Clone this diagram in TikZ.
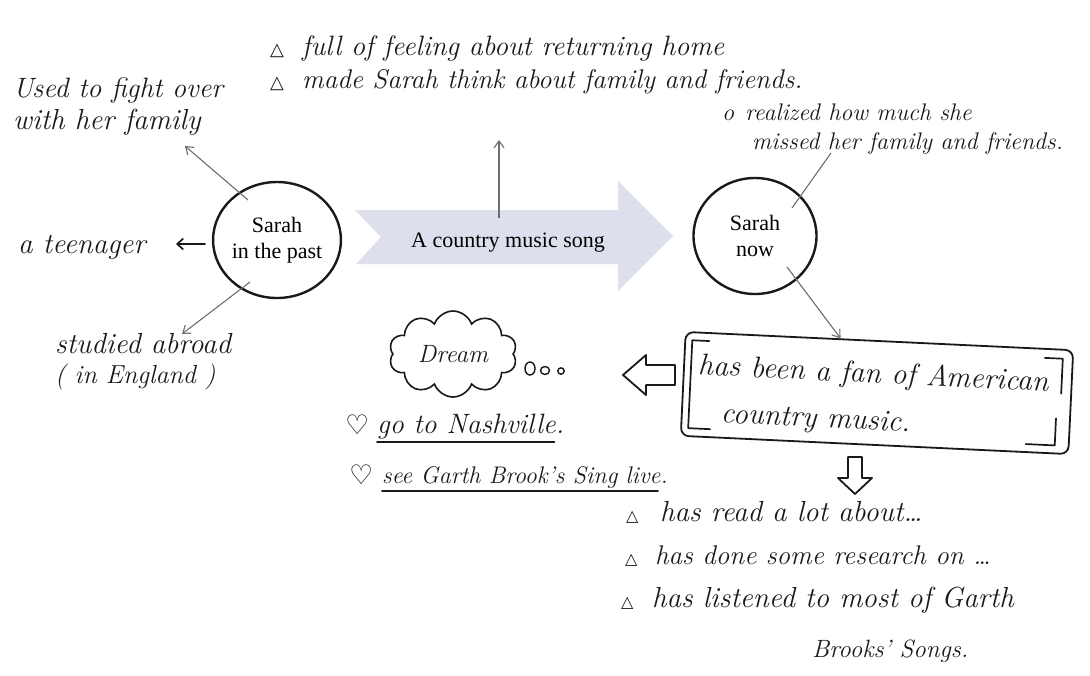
\documentclass[tikz,border=0pt]{standalone}
\usepackage{fontspec}
\newfontfamily\printfont{Liberation Serif}
\newfontfamily\symfont{DejaVu Sans}
\usetikzlibrary{arrows.meta,shapes.geometric,shapes.symbols,calc}
\definecolor{arrowfill}{RGB}{222,223,237}
\definecolor{ink}{RGB}{25,25,25}
\definecolor{conngray}{RGB}{110,110,110}
\begin{document}
\begin{tikzpicture}[x=1pt,y=-1pt,
  hand/.style={font=\fontsize{#1}{#1}\selectfont\itshape, text=ink, inner sep=0pt, anchor=base west},
  hand/.default=28,
  sym/.style={font=\fontsize{#1}{#1}\selectfont\symfont, text=ink, inner sep=0pt, anchor=base west},
  person/.style={ellipse, draw=ink, line width=2.4pt, minimum width=123pt, minimum height=116pt, align=center, font=\fontsize{22}{26}\selectfont\printfont, inner sep=0pt},
  conn/.style={draw=conngray, line width=1.1pt},
  tip/.style={-{Straight Barb[length=7pt,width=10pt,line width=1.1pt]}},
  stroke/.style={draw=ink, line width=1.7pt, line cap=round, line join=round},
]
\fill[white] (0,0) rectangle (1090,675);
\path[use as bounding box] (0,0) rectangle (1090,675);

% big arrow with its label
\fill[arrowfill] (355,210) -- (618,210) -- (618,181) -- (673,236) -- (618,291) -- (618,264) -- (356,264) -- (381,237) -- cycle;
\node[font=\fontsize{22}{26}\selectfont\printfont, inner sep=0pt, anchor=base] (song) at (508,247) {A country music song};

% persons
\node[person] (past) at (277,240) {Sarah\\in the past};
\node[person] (now) at (755,236) {Sarah\\now};

% top texts
\node[sym=18] (tb1) at (270,55) {△};
\node[hand=28] (top1) at (302,55) {full of feeling about returning home};
\node[sym=18] (tb2) at (270,88) {△};
\node[hand=27] (top2) at (302,88) {made Sarah think about family and friends.};

\node[hand=24] (ob) at (722,120) {o};
\node[hand=24] (real1) at (745,120) {realized how much she};
\node[hand=24] (real2) at (752,149) {missed her family and friends.};

% left texts
\node[hand=28] (fight1) at (13,97) {Used to fight over};
\node[hand=29] (fight2) at (13,129) {with her family};
\node[hand=29] (teen) at (18,253) {a teenager};
\node[hand=29] (abroad) at (55,353) {studied abroad};
\node[hand=26] (england) at (55,383) {( in England )};

% dream cloud
\node[cloud, cloud puffs=10, cloud puff arc=140, aspect=1.6, draw=ink, line width=1.6pt, minimum width=128pt, minimum height=86pt, inner sep=0pt, font=\fontsize{25}{25}\selectfont\itshape, text=ink] (dream) at (453,354) {Dream};
\draw[stroke, line width=1.4pt] (530,368.5) ellipse [x radius=5, y radius=6.5];
\draw[stroke, line width=1.4pt] (545,370.5) ellipse [x radius=4.5, y radius=4];
\draw[stroke, line width=1.4pt] (561,371) circle [radius=3.2];

\node[sym=27] (h1) at (345,434) {♡};
\node[hand=28] (nash) at (377,433) {go to Nashville.};
\draw[stroke] ([yshift=-9pt]nash.base west) -- ([yshift=-9pt,xshift=-10pt]nash.base east);
\node[sym=27] (h2) at (349,484) {♡};
\node[hand=24] (garth) at (382,483) {see Garth Brook's Sing live.};
\draw[stroke] ([yshift=-8pt]garth.base west) -- ([yshift=-8pt,xshift=-10pt]garth.base east);

% box
\begin{scope}[shift={(877,393)}, rotate=-2.7]
\node[draw=ink, line width=1.8pt, rounded corners=8pt, minimum width=388pt, minimum height=104pt, transform shape, inner sep=0pt] (fanbox) at (0,0) {};
\draw[stroke] (-170,-44) -- (-187,-44) -- (-187,44) -- (-165,44);
\draw[stroke] (166,-43) -- (184,-43) -- (184,-8);
\draw[stroke] (151,44) -- (180,44) -- (180,17);
\node[hand=30, transform shape] (fan1) at (-180,-10) {has been a fan of American};
\node[hand=30, transform shape] (fan2) at (-155,37) {country music.};
\end{scope}

% hollow arrows
\draw[stroke, line width=1.8pt] (675,365) -- (646,365) -- (646,355) -- (623,375) -- (646,395) -- (646,385) -- (675,385) -- cycle;
\draw[stroke, line width=1.8pt] (848,457) -- (848,478) -- (838,478) -- (855,494) -- (872,478) -- (862,478) -- (862,457) -- cycle;

% bottom list
\node[sym=16] (bb1) at (626,521) {△};
\node[hand=29] (r1) at (660,521) {has read a lot about\ldots};
\node[sym=16] (bb2) at (625,564) {△};
\node[hand=27] (r2) at (655,564) {has done some research on \ldots};
\node[sym=16] (bb3) at (621,607) {△};
\node[hand=29] (r3) at (652,607) {has listened to most of Garth};
\node[hand=25] (r4) at (812,657) {Brooks' Songs.};

% connectors
\coordinate (pa1) at (248,200); \coordinate (fa) at (185,146);
\draw[conn,tip] (pa1) -- (fa);
\coordinate (pa2) at (250,282); \coordinate (ab) at (182,334);
\draw[conn,tip] (pa2) -- (ab);
\coordinate (pa3) at (205,244); \coordinate (te) at (176,244);
\draw[stroke, -{Straight Barb[length=6pt,width=11pt]}] (pa3) -- (te);
\coordinate (so1) at (499,218); \coordinate (so2) at (499,140);
\draw[conn,tip] (so1) -- (so2);
\coordinate (no1) at (792,208); \coordinate (mi) at (831,153);
\draw[conn] (no1) -- (mi);
\coordinate (no2) at (787,267);
\draw[conn,tip] (no2) -- ($(fanbox.north west)!0.4!(fanbox.north east)$);
\end{tikzpicture}
\end{document}
